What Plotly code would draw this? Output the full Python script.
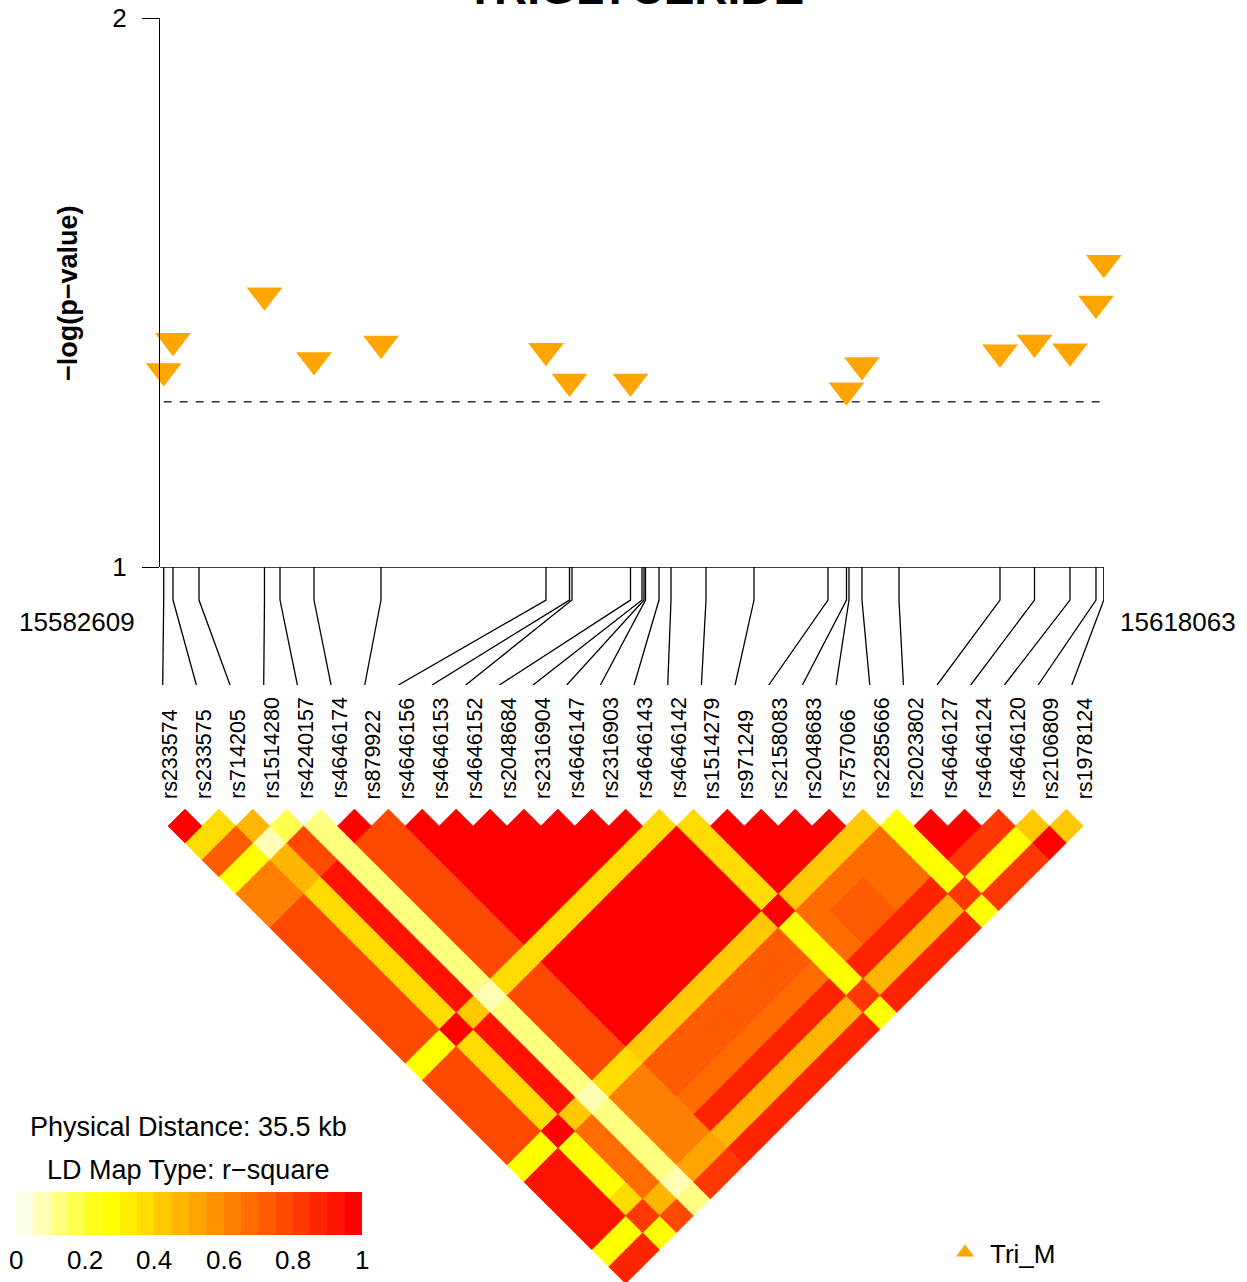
import math
import plotly.graph_objects as go

# ---------------------------------------------------------------- data
snp_names = ["rs233574", "rs233575", "rs714205", "rs1514280", "rs4240157", "rs4646174",
             "rs879922", "rs4646156", "rs4646153", "rs4646152", "rs2048684", "rs2316904",
             "rs4646147", "rs2316903", "rs4646143", "rs4646142", "rs1514279", "rs971249",
             "rs2158083", "rs2048683", "rs757066", "rs2285666", "rs2023802", "rs4646127",
             "rs4646124", "rs4646120", "rs2106809", "rs1978124"]

snp_pos = [15582609, 15582960, 15583940, 15586410, 15586995, 15588277, 15590804,
           15597026, 15597913, 15598007, 15600213, 15600647, 15600722, 15600779,
           15601288, 15601741, 15603061, 15604871, 15607661, 15608359, 15608453,
           15608943, 15610339, 15614148, 15615449, 15616788, 15617768, 15618063]

# -log10(p) for Tri_M; None = below the plotted range
neg_log_p = [1.357, 1.412, None, 1.495, None, 1.377, 1.407, 1.394, 1.338, None,
             1.338, None, None, None, None, None, None, None, None, 1.322,
             None, 1.368, None, 1.391, 1.409, 1.393, 1.480, 1.554]

sig_level = 0.05
trait_name = "TRIGLYCERIDE"
series_name = "Tri_M"

# pairwise r-square, row i holds r2(i, j) for j = i+1 .. 27
ld_r2 = [
    [0.97, 0.37, 0.72, 0.25, 0.62, 0.62, 0.75, 0.75, 0.75, 0.75, 0.75, 0.75, 0.75, 0.75,
     0.27, 0.75, 0.75, 0.75, 0.75, 0.75, 0.25, 0.92, 0.92, 0.92, 0.92, 0.27, 0.85],
    [0.35, 0.70, 0.25, 0.62, 0.62, 0.75, 0.75, 0.75, 0.75, 0.75, 0.75, 0.75, 0.75,
     0.27, 0.75, 0.75, 0.75, 0.75, 0.75, 0.25, 0.92, 0.92, 0.92, 0.92, 0.27, 0.85],
    [0.47, 0.07, 0.47, 0.47, 0.37, 0.37, 0.37, 0.37, 0.37, 0.37, 0.37, 0.37,
     0.97, 0.37, 0.37, 0.37, 0.37, 0.37, 0.97, 0.27, 0.27, 0.27, 0.37, 0.80, 0.27],
    [0.17, 0.77, 0.77, 0.92, 0.92, 0.92, 0.92, 0.92, 0.92, 0.92, 0.92,
     0.40, 0.92, 0.92, 0.92, 0.92, 0.92, 0.40, 0.67, 0.67, 0.67, 0.67, 0.45, 0.77],
    [0.12, 0.12, 0.12, 0.12, 0.12, 0.12, 0.12, 0.12, 0.12, 0.12,
     0.07, 0.12, 0.12, 0.12, 0.12, 0.12, 0.07, 0.12, 0.12, 0.12, 0.12, 0.05, 0.12],
    [0.97, 0.77, 0.77, 0.77, 0.77, 0.77, 0.77, 0.77, 0.77,
     0.37, 0.77, 0.77, 0.77, 0.77, 0.77, 0.37, 0.62, 0.62, 0.62, 0.62, 0.52, 0.82],
    [0.77, 0.77, 0.77, 0.77, 0.77, 0.77, 0.77, 0.77,
     0.37, 0.77, 0.77, 0.77, 0.77, 0.77, 0.37, 0.62, 0.62, 0.62, 0.62, 0.52, 0.82],
    [0.98, 0.98, 0.98, 0.98, 0.98, 0.98, 0.98,
     0.37, 0.98, 0.98, 0.98, 0.98, 0.98, 0.40, 0.72, 0.72, 0.67, 0.85, 0.45, 0.87],
    [0.98, 0.98, 0.98, 0.98, 0.98, 0.98,
     0.37, 0.98, 0.98, 0.98, 0.98, 0.98, 0.40, 0.72, 0.72, 0.67, 0.85, 0.45, 0.87],
    [0.98, 0.98, 0.98, 0.98, 0.98,
     0.37, 0.98, 0.98, 0.98, 0.98, 0.98, 0.40, 0.72, 0.72, 0.67, 0.85, 0.45, 0.87],
    [0.98, 0.98, 0.98, 0.98,
     0.37, 0.98, 0.98, 0.98, 0.98, 0.98, 0.40, 0.72, 0.72, 0.67, 0.85, 0.45, 0.87],
    [0.98, 0.98, 0.98,
     0.37, 0.98, 0.98, 0.98, 0.98, 0.98, 0.40, 0.72, 0.72, 0.67, 0.85, 0.45, 0.87],
    [0.98, 0.98,
     0.37, 0.98, 0.98, 0.98, 0.98, 0.98, 0.40, 0.72, 0.72, 0.67, 0.85, 0.45, 0.87],
    [0.98,
     0.37, 0.98, 0.98, 0.98, 0.98, 0.98, 0.40, 0.72, 0.72, 0.67, 0.85, 0.45, 0.87],
    [0.37, 0.98, 0.98, 0.98, 0.98, 0.98, 0.40, 0.72, 0.72, 0.67, 0.85, 0.45, 0.87],
    [0.37, 0.37, 0.37, 0.37, 0.37, 0.97, 0.27, 0.27, 0.27, 0.27, 0.80, 0.27],
    [0.98, 0.98, 0.98, 0.98, 0.40, 0.67, 0.67, 0.67, 0.85, 0.45, 0.87],
    [0.98, 0.98, 0.98, 0.40, 0.67, 0.72, 0.72, 0.85, 0.45, 0.87],
    [0.98, 0.98, 0.40, 0.67, 0.72, 0.72, 0.85, 0.45, 0.87],
    [0.98, 0.40, 0.67, 0.67, 0.67, 0.85, 0.45, 0.87],
    [0.40, 0.67, 0.67, 0.67, 0.85, 0.45, 0.87],
    [0.27, 0.27, 0.27, 0.27, 0.80, 0.27],
    [0.97, 0.97, 0.82, 0.27, 0.82],
    [0.97, 0.82, 0.27, 0.82],
    [0.82, 0.27, 0.82],
    [0.42, 0.97],
    [0.42],
]

key_ticks = [0, 0.2, 0.4, 0.6, 0.8, 1]

# ---------------------------------------------------------------- style
W, H = 1247, 1282
FONT = "Liberation Sans, Arial, sans-serif"
POINT_COLOR = "#FFA500"

# reversed heat.colors(20): pale yellow -> yellow -> orange -> red
LD_COLORS = ["#FFFFE6", "#FFFFB3", "#FFFF80", "#FFFF4D", "#FFFF1A", "#FFFF00", "#FFED00",
             "#FFDB00", "#FFC800", "#FFB600", "#FFA400", "#FF9200", "#FF8000", "#FF6D00",
             "#FF5B00", "#FF4900", "#FF3700", "#FF2400", "#FF1200", "#FF0000"]
N_COL = len(LD_COLORS)


def px(x):
    return x / W


def py(y):
    return 1 - y / H


def text_ann(text, x, y, size, xref="paper", angle=0, xanchor="center",
             yanchor="middle"):
    return dict(text=text, x=x, y=y, xref=xref, yref="paper", textangle=angle,
                xanchor=xanchor, yanchor=yanchor, showarrow=False,
                font=dict(size=size, color="black", family=FONT))


n = len(snp_names)

# association panel geometry (pixels)
AX_LEFT, AX_RIGHT = 160, 1104
FIRST_PX, LAST_PX = 163.7, 1103.8
bp_per_px = (snp_pos[-1] - snp_pos[0]) / (LAST_PX - FIRST_PX)
x_range = [snp_pos[0] - (FIRST_PX - AX_LEFT) * bp_per_px,
           snp_pos[0] + (AX_RIGHT - FIRST_PX) * bp_per_px]

# LD map geometry: SNP column k sits at COL0 + k*COL_STEP pixels
COL0, COL_STEP = 168.0, 33.9
ROW0 = 809.05
half = COL_STEP / 2
x2_range = [-COL0 / COL_STEP, (W - COL0) / COL_STEP]
y2_range = [(H - ROW0) / half, (0 - ROW0) / half]

fig = go.Figure()

# ---------------------------------------------------------------- LD map diamonds
groups = {k: ([], []) for k in range(N_COL)}
for i, row in enumerate(ld_r2):
    for off, r2 in enumerate(row):
        j = i + 1 + off
        c = min(N_COL - 1, int(math.floor(r2 * N_COL + 1e-9)))
        u = (i + j) / 2.0
        v = j - i
        xs, ys = groups[c]
        xs += [u - 0.5, u, u + 0.5, u, u - 0.5, None]
        ys += [v, v - 1, v, v + 1, v, None]

for c in range(N_COL):
    xs, ys = groups[c]
    if not xs:
        continue
    fig.add_trace(go.Scatter(
        x=xs, y=ys, xaxis="x2", yaxis="y2", mode="lines", fill="toself",
        fillcolor=LD_COLORS[c], line=dict(color=LD_COLORS[c], width=0.6),
        hoverinfo="skip", showlegend=False))

# ---------------------------------------------------------------- connectors
label_first_px, label_step_px = 162.7, 33.67
cx, cy = [x_range[0], x_range[1], None], [1, 1, None]
for k, p in enumerate(snp_pos):
    end_bp = snp_pos[0] + (label_first_px + k * label_step_px - FIRST_PX) * bp_per_px
    cx += [p, p, end_bp, None]
    cy += [1, 0.72, 0, None]
fig.add_trace(go.Scatter(x=cx, y=cy, xaxis="x", yaxis="y3", mode="lines",
                         line=dict(color="black", width=1.3), hoverinfo="skip",
                         showlegend=False))

# ---------------------------------------------------------------- association points
pts_x = [p for p, v in zip(snp_pos, neg_log_p) if v is not None]
pts_y = [v for v in neg_log_p if v is not None]
fig.add_trace(go.Scatter(x=pts_x, y=pts_y, xaxis="x", yaxis="y", mode="markers",
                         marker=dict(symbol="triangle-down", size=31, color=POINT_COLOR,
                                     line=dict(width=0)),
                         cliponaxis=False, showlegend=False, hoverinfo="skip"))

# legend entry
fig.add_trace(go.Scatter(x=[None], y=[None], xaxis="x", yaxis="y", mode="markers",
                         name=series_name,
                         marker=dict(symbol="triangle-up", size=20, color=POINT_COLOR),
                         showlegend=True))

# ---------------------------------------------------------------- colour key
fig.add_trace(go.Heatmap(
    z=[list(range(N_COL))], x=list(range(N_COL)), y=[0], xaxis="x5", yaxis="y5",
    colorscale=[s for k, col in enumerate(LD_COLORS) for s in
                ([k / N_COL, col], [(k + 1) / N_COL, col])],
    zmin=-0.5, zmax=N_COL - 0.5, showscale=False, hoverinfo="skip"))

# ---------------------------------------------------------------- annotations
ann = []
ann.append(text_ann("<b>%s</b>" % trait_name, px(635), py(16), 46, yanchor="bottom"))
ann.append(text_ann("<b>\u2212log(p\u2212value)</b>", px(68), py(293), 27, angle=-90))
ann.append(text_ann(str(snp_pos[0]), px(77), py(622), 26))
ann.append(text_ann(str(snp_pos[-1]), px(1178), py(622), 26))
for k, name in enumerate(snp_names):
    ann.append(text_ann(name, k + 0.06, py(801), 21.5, xref="x2", angle=-90,
                        yanchor="bottom"))
dist_kb = (snp_pos[-1] - snp_pos[0]) / 1000.0
ann.append(text_ann("Physical Distance: %.1f kb" % dist_kb, px(188), py(1127), 27))
ann.append(text_ann("LD Map Type: r\u2212square", px(188), py(1170), 27))
for t in key_ticks:
    ann.append(text_ann("%g" % t, -0.5 + t * N_COL, py(1260), 26, xref="x5"))

fig.add_shape(type="line", xref="x", yref="y", x0=snp_pos[0], x1=snp_pos[-1],
              y0=-math.log10(sig_level), y1=-math.log10(sig_level),
              line=dict(color="#333333", width=1.5, dash="8px,8px"))

hidden = dict(visible=False, showgrid=False, zeroline=False, fixedrange=True,
              automargin=False)
fig.update_layout(
    template="none",
    width=W, height=H, margin=dict(l=0, r=0, t=0, b=0, pad=0, autoexpand=False),
    paper_bgcolor="white", plot_bgcolor="rgba(0,0,0,0)",
    font=dict(family=FONT, color="black"),
    showlegend=True,
    legend=dict(x=px(940), y=py(1229), xanchor="left", yanchor="top",
                bgcolor="rgba(0,0,0,0)", borderwidth=0,
                font=dict(size=26, family=FONT), itemwidth=40),
    xaxis=dict(domain=[px(AX_LEFT), px(AX_RIGHT)], range=x_range, anchor="y", **hidden),
    yaxis=dict(domain=[py(567), py(18)], range=[1, 2], anchor="x",
               tickvals=[1, 2], ticks="outside", ticklen=17, tickwidth=1,
               tickcolor="black", showline=True, linecolor="black", linewidth=1,
               showgrid=False, zeroline=False, tickfont=dict(size=26),
               ticklabelstandoff=10, fixedrange=True, automargin=False),
    yaxis3=dict(domain=[py(685), py(567)], range=[0, 1], anchor="x", **hidden),
    xaxis2=dict(domain=[0, 1], range=x2_range, anchor="y2", **hidden),
    yaxis2=dict(domain=[0, 1], range=y2_range, anchor="x2", **hidden),
    xaxis5=dict(domain=[px(16), px(362)], range=[-0.5, N_COL - 0.5], anchor="y5", **hidden),
    yaxis5=dict(domain=[py(1235), py(1192)], range=[-0.5, 0.5], anchor="x5", **hidden),
    annotations=ann,
)

fig.write_html("out.html")
